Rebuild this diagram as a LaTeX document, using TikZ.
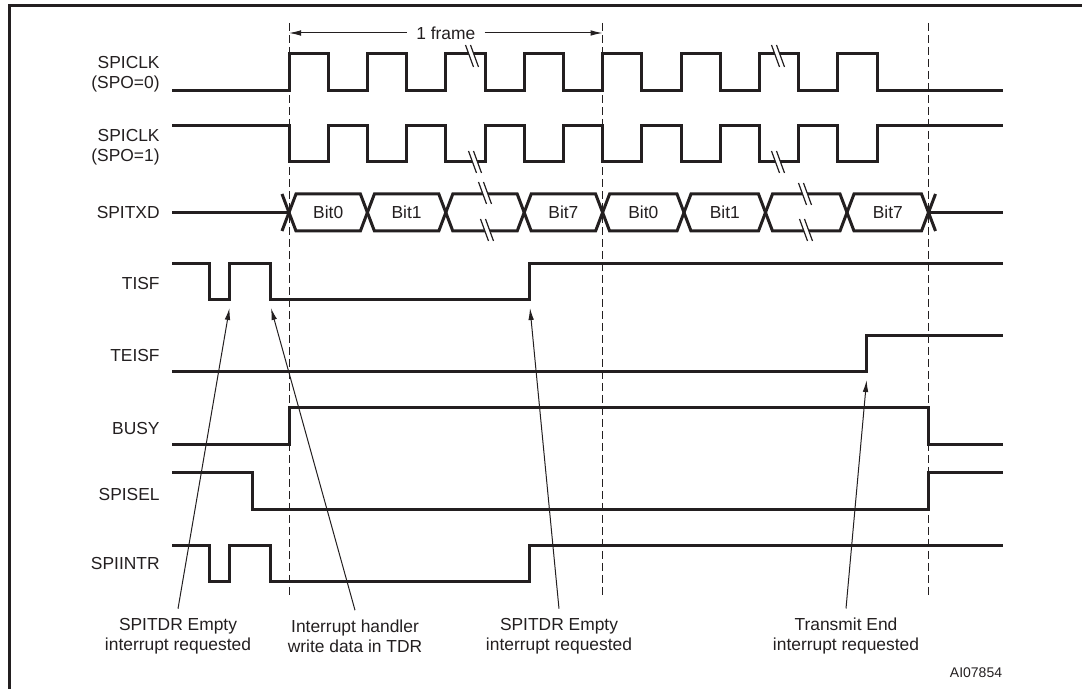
\documentclass[tikz,border=0pt]{standalone}
\usepackage{fontspec}
\setmainfont{Liberation Sans}
\usepackage{tikz}
\usetikzlibrary{arrows.meta}
\definecolor{ink}{HTML}{231F20}
\newcommand{\brkmark}[2]{%
  \fill[white] (#1-6.5,#2-11) -- (#1-1.5,#2-11) -- (#1+6.5,#2+11) -- (#1+1.5,#2+11) -- cycle;
  \draw[brk] (#1-6.5,#2-11) -- (#1+1.5,#2+11) (#1-1.5,#2-11) -- (#1+6.5,#2+11);}

\begin{document}
\begin{tikzpicture}[
  x=0.5pt, y=-0.5pt,
  font=\fontsize{8.7}{10}\selectfont,
  sig/.style={draw=ink, line width=1.5pt},
  guide/.style={draw=ink, line width=0.5pt, dash pattern=on 4pt off 2pt},
  arrow/.style={draw=ink, line width=0.5pt, -{Latex[length=6pt,width=2.8pt]}},
  lbl/.style={anchor=east, align=right, inner sep=0pt, text=ink},
  note/.style={align=center, inner xsep=2pt, inner ysep=4.5pt, text=ink},
  bitlbl/.style={inner sep=0pt, text=ink},
  brk/.style={draw=ink, line width=0.6pt}
]
\useasboundingbox (0,0) rectangle (1082,689);
\draw[ink, line width=1.5pt] (1082,5.5) -- (9.5,5.5) -- (9.5,689);

\foreach \x in {289,602.6,928.5}
  \draw[guide] (\x,23) -- (\x,597);

\node[fill=white, inner xsep=4.5pt, inner ysep=1pt, text=ink] (frm) at (445.8,33) {1 frame};
\coordinate (fl) at (289,33);
\coordinate (fr) at (602.6,33);
\draw[arrow] (frm) -- (fl);
\draw[arrow] (frm) -- (fr);

\node[lbl] (clk0) at (160,74.5) {SPICLK\\(SPO=0)};
\node[lbl] (clk1) at (160,147.5) {SPICLK\\(SPO=1)};
\node[lbl] (txd) at (160,213) {SPITXD};
\node[lbl] (tisf) at (160,284) {TISF};
\node[lbl] (teisf) at (160,356) {TEISF};
\node[lbl] (busy) at (160,429) {BUSY};
\node[lbl] (spisel) at (160,495) {SPISEL};
\node[lbl] (spiintr) at (160,564) {SPIINTR};

\draw[sig] (172,91) foreach \i in {0,...,7} {
  -- ({289+78.4*\i},91) -- ({289+78.4*\i},54) -- ({328.2+78.4*\i},54) -- ({328.2+78.4*\i},91)} -- (1003,91);
\draw[sig] (172,126) foreach \i in {0,...,7} {
  -- ({289+78.4*\i},126) -- ({289+78.4*\i},162) -- ({328.2+78.4*\i},162) -- ({328.2+78.4*\i},126)} -- (1003,126);

\foreach \a/\b in {289/367.4, 367.4/445.8, 445.8/524.2, 524.2/602.6, 602.6/684, 684/765.5, 765.5/847, 847/928.5}
  \draw[sig] (\a,212.5) -- (\a+7,194) -- (\b-7,194) -- (\b,212.5) -- (\b-7,231) -- (\a+7,231) -- cycle;
\draw[sig] (172,212.5) -- (289,212.5);
\draw[sig] (282,194) -- (289,212.5) -- (282,231);
\draw[sig] (935.5,194) -- (928.5,212.5) -- (935.5,231);
\draw[sig] (928.5,212.5) -- (1003,212.5);
\node[bitlbl] (b0a) at (328.2,212.5) {Bit0};
\node[bitlbl] (b1a) at (406.6,212.5) {Bit1};
\node[bitlbl] (b7a) at (563.4,212.5) {Bit7};
\node[bitlbl] (b0b) at (643.3,212.5) {Bit0};
\node[bitlbl] (b1b) at (724.8,212.5) {Bit1};
\node[bitlbl] (b7b) at (887.8,212.5) {Bit7};

\draw[sig] (172,264) -- (209,264) -- (209,300) -- (229.7,300) -- (229.7,264) -- (270.3,264) -- (270.3,300) -- (529.3,300) -- (529.3,264) -- (1003,264);
\draw[sig] (172,372) -- (866.6,372) -- (866.6,336) -- (1003,336);
\draw[sig] (172,445) -- (289,445) -- (289,408) -- (928.5,408) -- (928.5,445) -- (1003,445);
\draw[sig] (172,473) -- (252.4,473) -- (252.4,510) -- (928.5,510) -- (928.5,473) -- (1003,473);
\draw[sig] (172,546) -- (209,546) -- (209,581) -- (229.7,581) -- (229.7,546) -- (270.3,546) -- (270.3,581) -- (529.3,581) -- (529.3,546) -- (1003,546);

\brkmark{472}{56}
\brkmark{778}{56}
\brkmark{475}{162}
\brkmark{778}{162}
\brkmark{485}{193}
\brkmark{487}{230}
\brkmark{805}{194}
\brkmark{806}{230}

\node[note] (req1) at (178,636) {SPITDR Empty\\interrupt requested};
\node[note] (hdl) at (355,636) {Interrupt handler\\write data in TDR};
\node[note] (req2) at (559,636) {SPITDR Empty\\interrupt requested};
\node[note] (tend) at (846,636) {Transmit End\\interrupt requested};
\coordinate (t1) at (229.5,308);
\coordinate (t2) at (271,308);
\coordinate (t3) at (530,308);
\coordinate (t4) at (866.6,380);
\draw[arrow] (req1.north) -- (t1);
\draw[arrow] (hdl.north) -- (t2);
\draw[arrow] (req2.north) -- (t3);
\draw[arrow] (tend.north) -- (t4);

\node[font=\fontsize{7}{8}\selectfont, text=ink] (ref) at (976,673) {AI07854};
\end{tikzpicture}
\end{document}
